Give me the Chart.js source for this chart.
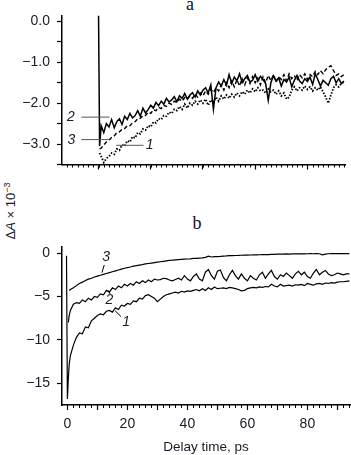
<!DOCTYPE html>
<html><head><meta charset="utf-8">
<script src="https://cdn.jsdelivr.net/npm/chart.js@4.4.1/dist/chart.umd.min.js"></script>
<style>
html,body{margin:0;padding:0;background:#fff;width:351px;height:455px;overflow:hidden;position:relative;}
#wa{position:absolute;left:0;top:0;width:351px;height:180px;}
#wb{position:absolute;left:0;top:230px;width:351px;height:225px;}
.pl{position:absolute;font-family:"Liberation Serif","Times New Roman",serif;font-size:18px;color:#111;transform:translateX(-50%);line-height:1;}
#ylab{position:absolute;left:10px;top:211px;transform:translate(-50%,-50%) rotate(-90deg);font-family:"Liberation Sans",Arial,sans-serif;font-size:13px;white-space:nowrap;color:#1a1a2a;}
#ylab sup{font-size:9px;}
</style></head>
<body>
<div class="pl" style="left:190px;top:-5px">a</div>
<div class="pl" style="left:197px;top:214px">b</div>
<div id="ylab">Δ<i>A</i> × 10<sup>−3</sup></div>
<div id="wa"><canvas id="ca" width="351" height="180"></canvas></div>
<div id="wb"><canvas id="cb" width="351" height="225"></canvas></div>
<script>
// ---------- Panel a data ----------
const timesA = [0,0.02,
0.05,0.10,0.15,0.20,0.25,0.30,0.35,0.40,0.45,0.50,
0.55,0.60,0.65,0.70,0.75,0.80,0.85,0.90,0.95,1.00,
1.05,1.10,1.15,1.20,1.25,1.30,1.35,1.40,1.45,1.50,
1.55,1.60,1.65,1.70,1.75,1.80,1.85,1.90,1.95,2.00,
2.05,2.10,2.15,2.20,2.25,2.30,2.35,2.40,2.45,2.50,
2.55,2.60,2.65,2.70,2.75,2.80,2.85,2.90,2.95,3.00,
3.05,3.10,3.15,3.20,3.25,3.30,3.35,3.40,3.45,3.50,
3.55,3.60,3.65,3.70,3.75,3.80,3.85,3.90,3.95,4.00,
4.05,4.10,4.15,4.20,4.25,4.30,4.35,4.40,4.45,4.50,
4.55,4.60,4.65,4.70];
const curveA2 = [0.15,-3.05,
-2.55,-2.72,-2.50,-2.58,-2.40,-2.60,-2.45,-2.38,-2.52,-2.32,
-2.40,-2.25,-2.36,-2.30,-2.18,-2.32,-2.12,-2.24,-2.15,-2.05,
-2.12,-1.98,-2.06,-1.95,-2.02,-1.88,-1.97,-1.92,-1.84,-1.96,
-1.82,-1.88,-1.76,-1.90,-1.80,-1.74,-1.85,-1.70,-1.80,-1.68,
-1.62,-1.75,-1.55,-2.15,-1.62,-1.48,-1.58,-1.42,-1.56,-1.30,
-1.52,-1.36,-1.45,-1.28,-1.50,-1.40,-1.32,-1.48,-1.44,-1.30,
-1.46,-1.34,-1.42,-1.52,-1.93,-1.50,-1.33,-1.46,-1.38,-1.58,
-1.42,-1.48,-1.36,-1.60,-1.44,-1.32,-1.46,-1.52,-1.40,-1.47,
-1.36,-1.54,-1.28,-1.42,-1.58,-1.44,-1.50,-1.56,-1.40,-1.34,
-1.50,-1.40,-1.52,-1.46];
const curveA3 = [null,-3.12,
-3.10,-3.02,-2.95,-2.90,-2.84,-2.80,-2.72,-2.70,-2.64,-2.62,
-2.55,-2.55,-2.48,-2.45,-2.38,-2.37,-2.30,-2.30,-2.22,-2.25,
-2.16,-2.18,-2.10,-2.13,-2.05,-2.08,-2.00,-2.03,-1.95,-1.98,
-1.90,-1.95,-1.86,-1.90,-1.82,-1.88,-1.78,-1.85,-1.75,-1.82,
-1.70,-1.78,-1.66,-1.74,-1.62,-1.70,-1.55,-1.68,-1.50,-1.62,
-1.45,-1.60,-1.42,-1.58,-1.40,-1.55,-1.38,-1.52,-1.35,-1.50,
-1.38,-1.55,-1.35,-1.50,-1.32,-1.45,-1.30,-1.48,-1.35,-1.42,
-1.30,-1.45,-1.28,-1.40,-1.32,-1.45,-1.30,-1.38,-1.28,-1.42,
-1.30,-1.35,-1.22,-1.30,-1.20,-1.28,-1.18,-1.12,-1.08,-1.20,
-1.32,-1.28,-1.35,-1.30];
const curveA1 = [null,-3.22,
-3.30,-3.45,-3.35,-3.30,-3.22,-3.25,-3.12,-3.15,-3.02,-3.05,
-2.92,-2.95,-2.82,-2.85,-2.72,-2.75,-2.63,-2.66,-2.55,-2.58,
-2.46,-2.48,-2.38,-2.40,-2.30,-2.32,-2.22,-2.25,-2.15,-2.18,
-2.08,-2.15,-2.02,-2.12,-2.00,-2.05,-1.95,-2.02,-1.92,-2.00,
-1.90,-2.05,-1.92,-1.98,-1.85,-1.95,-1.82,-1.90,-1.80,-1.88,
-1.78,-1.85,-1.75,-1.82,-1.72,-1.78,-1.68,-1.75,-1.65,-1.72,
-1.62,-1.70,-1.68,-1.75,-1.65,-1.72,-1.68,-1.78,-1.70,-1.82,
-1.75,-1.90,-1.85,-1.68,-1.60,-1.70,-1.62,-1.68,-1.58,-1.66,
-1.60,-1.70,-1.62,-1.68,-1.60,-1.72,-1.85,-2.00,-1.80,-1.62,
-1.55,-1.60,-1.52,-1.48];
const yTicksA = [0,-1,-2,-3];
const yLabelsA = ['0.0','−1.0','−2.0','−3.0'];

// ---------- Panel b data ----------
const timesB = [-0.3,0,0.3,0.6,
1,2,3,4,5,6,7,8,9,10,11,12,13,14,15,16,17,18,19,20,
21,22,23,24,25,26,27,28,29,30,31,32,33,34,35,36,37,38,39,40,
41,42,43,44,45,46,47,48,49,50,51,52,53,54,55,56,57,58,59,60,
61,62,63,64,65,66,67,68,69,70,71,72,73,74,75,76,77,78,79,80,
81,82,83,84,85,86,87,88,89,90,91,92,93,94];
const curveB1 = [-0.3,-16.8,-14.5,-12.8,
-11.8,-10.6,-9.7,-9.2,-9.3,-8.5,-8.6,-7.8,-7.5,-7.2,
-7.0,-7.1,-6.7,-6.6,-6.8,-6.3,-6.5,-6.0,-6.1,-5.8,
-5.9,-5.5,-5.6,-5.2,-5.3,-4.9,-4.8,-5.0,-5.2,-5.6,
-5.3,-5.0,-4.8,-4.7,-4.6,-4.5,-4.6,-4.4,-4.5,-4.35,
-4.4,-4.3,-4.2,-4.35,-4.1,-4.3,-4.0,-4.2,-3.9,-4.1,
-4.05,-4.0,-4.1,-3.95,-4.0,-4.1,-4.2,-4.35,-4.3,-4.1,
-4.0,-3.95,-4.0,-3.9,-3.95,-3.85,-3.9,-3.6,-3.8,-3.9,
-3.6,-3.8,-3.75,-3.7,-3.8,-3.65,-3.7,-3.6,-3.75,-3.5,
-3.6,-3.7,-3.55,-3.5,-3.6,-3.45,-3.5,-3.4,-3.45,-3.35,
-3.3,-3.3,-3.25,-3.2];
const curveB2 = [null,null,-8.0,-7.2,
-6.6,-5.9,-5.7,-5.8,-5.4,-5.6,-5.2,-5.4,-5.0,-5.1,
-4.7,-4.8,-4.3,-4.5,-4.0,-4.2,-3.8,-4.0,-3.6,-3.8,
-3.5,-3.7,-3.3,-3.5,-3.2,-3.4,-3.1,-3.3,-3.0,-3.1,
-3.05,-2.9,-2.95,-3.1,-3.2,-3.05,-2.9,-3.1,-2.6,-3.0,
-3.2,-2.7,-2.4,-3.0,-3.2,-2.2,-1.9,-2.6,-3.0,-2.1,
-1.95,-2.8,-3.2,-2.5,-2.0,-2.6,-3.0,-2.4,-2.9,-3.2,
-2.6,-2.9,-3.1,-2.5,-2.2,-2.9,-2.4,-2.0,-2.7,-3.0,
-2.5,-2.7,-2.3,-2.6,-2.9,-2.4,-2.1,-2.5,-2.2,-2.7,
-2.9,-2.3,-1.9,-2.5,-2.2,-2.0,-2.4,-2.6,-2.5,-2.3,
-2.4,-2.5,-2.4,-2.4];
const curveB3 = [null,null,null,-4.3,
-4.2,-4.0,-3.75,-3.5,-3.35,-3.15,-3.0,-2.9,-2.75,-2.65,
-2.55,-2.45,-2.35,-2.25,-2.15,-2.05,-1.95,-1.85,-1.75,-1.68,
-1.6,-1.5,-1.45,-1.38,-1.32,-1.25,-1.2,-1.15,-1.1,-1.05,
-1.0,-0.95,-0.9,-0.85,-0.82,-0.78,-0.75,-0.72,-0.7,-0.68,
-0.66,-0.62,-0.6,-0.58,-0.56,-0.5,-0.35,-0.45,-0.42,-0.4,
-0.38,-0.35,-0.33,-0.3,-0.3,-0.28,-0.27,-0.25,-0.24,-0.23,
-0.22,-0.2,-0.2,-0.19,-0.18,-0.17,-0.17,-0.15,-0.14,-0.13,
-0.12,-0.12,-0.1,-0.11,-0.1,-0.09,-0.1,-0.08,-0.09,-0.08,
-0.07,-0.08,-0.06,-0.08,-0.2,-0.12,-0.08,-0.07,-0.06,-0.05,
-0.06,-0.07,-0.05,-0.06];
const xTicksB = [0,20,40,60,80];
const xLabelsB = ['0','20','40','60','80'];
const yTicksB = [0,-5,-10,-15];
const yLabelsB = ['0','−5','−10','−15'];

// ---------- helpers ----------
const pairs = (xs, ys) => xs.map((x, i) => ({x: x, y: ys[i]}));
const labelFrom = (vals, labs) => (v) => {
  for (let i = 0; i < vals.length; i++) if (Math.abs(v - vals[i]) < 1e-6) return labs[i];
  return '';
};
const SANS = '"Liberation Sans", Arial, Helvetica, sans-serif';
const INK = '#1a1a2a';

const minorTicks = {
  id: 'minorTicks',
  afterDraw(chart, args, o) {
    const xs = chart.scales.x, ctx = chart.ctx, y0 = chart.chartArea.bottom;
    ctx.save();
    ctx.strokeStyle = '#000'; ctx.lineWidth = 1;
    ctx.beginPath();
    const n = Math.round((o.to - o.from) / o.step);
    for (let i = 0; i <= n; i++) {
      const v = o.from + i * o.step;
      const px = Math.round(xs.getPixelForValue(v)) + 0.5;
      ctx.moveTo(px, y0); ctx.lineTo(px, y0 + o.len);
    }
    ctx.stroke();
    ctx.restore();
  }
};
const notes = {
  id: 'notes',
  afterDatasetsDraw(chart, args, o) {
    const ctx = chart.ctx, x = chart.scales.x, y = chart.scales.y;
    ctx.save();
    for (const n of o.items) {
      if (n.line) {
        ctx.strokeStyle = o.lineColor; ctx.lineWidth = 1;
        ctx.beginPath();
        ctx.moveTo(x.getPixelForValue(n.line[0]), y.getPixelForValue(n.line[1]));
        ctx.lineTo(x.getPixelForValue(n.line[2]), y.getPixelForValue(n.line[3]));
        ctx.stroke();
      }
      if (n.text) {
        ctx.fillStyle = INK;
        ctx.font = 'italic 14px ' + SANS;
        ctx.textAlign = 'center'; ctx.textBaseline = 'middle';
        ctx.fillText(n.text, x.getPixelForValue(n.at[0]), y.getPixelForValue(n.at[1]));
      }
    }
    ctx.restore();
  }
};

const common = {
  responsive: false, animation: false, events: [],
  plugins: {legend: {display: false}, tooltip: {enabled: false}, title: {display: false}},
  elements: {point: {radius: 0}, line: {tension: 0, borderColor: '#000', fill: false}}
};

// ---------- chart a ----------
new Chart(document.getElementById('ca'), {
  type: 'line',
  data: {datasets: [
    {data: pairs(timesA, curveA1), borderColor: '#000', borderWidth: 1.8, borderDash: [1.5, 1.6]},
    {data: pairs(timesA, curveA3), borderColor: '#000', borderWidth: 1.4, borderDash: [4, 2.5]},
    {data: pairs(timesA, curveA2), borderColor: '#000', borderWidth: 1.5}
  ]},
  options: Object.assign({}, common, {
    layout: {padding: {top: 14, right: 6, left: 0, bottom: 0}},
    plugins: Object.assign({}, common.plugins, {
      minorTicks: {from: -0.6, to: 4.7, step: 0.1, len: 3},
      notes: {lineColor: '#555', items: [
        {text: '2', at: [-0.53, -2.34], line: [-0.33, -2.34, 0.21, -2.34]},
        {text: '3', at: [-0.52, -2.90], line: [-0.33, -2.89, 0.24, -2.89]},
        {text: '1', at: [0.98, -3.03], line: [0.34, -3.03, 0.86, -3.03]}
      ]}
    }),
    scales: {
      x: {type: 'linear', min: -0.7, max: 4.72,
        afterFit(s) { s.height = 15.5; },
        grid: {drawOnChartArea: false, tickLength: 5, tickWidth: 1.2, tickColor: '#000'},
        border: {display: true, color: '#000', width: 1.5},
        ticks: {stepSize: 1, includeBounds: false, autoSkip: false, callback: () => '', padding: 0}},
      y: {type: 'linear', min: -3.5, max: 0.15,
        afterFit(s) { s.width = 62; },
        grid: {drawOnChartArea: false, tickLength: 5, tickWidth: 1.2, tickColor: '#000'},
        border: {display: true, color: '#000', width: 1.5},
        ticks: {stepSize: 0.5, includeBounds: false, autoSkip: false, padding: 7,
          color: INK, font: {family: SANS, size: 14},
          callback: labelFrom(yTicksA, yLabelsA)}}
    }
  }),
  plugins: [minorTicks, notes]
});

// ---------- chart b ----------
new Chart(document.getElementById('cb'), {
  type: 'line',
  data: {datasets: [
    {data: pairs(timesB, curveB1), borderColor: '#000', borderWidth: 1.2},
    {data: pairs(timesB, curveB2), borderColor: '#000', borderWidth: 1.2},
    {data: pairs(timesB, curveB3), borderColor: '#000', borderWidth: 1.2}
  ]},
  options: Object.assign({}, common, {
    layout: {padding: {top: 17, right: 1, left: 0, bottom: 0}},
    plugins: Object.assign({}, common.plugins, {
      minorTicks: {from: 0, to: 94, step: 2, len: 3},
      notes: {lineColor: '#000', items: [
        {text: '3', at: [12.9, -0.45], line: [12.3, -1.37, 11.5, -2.26]},
        {text: '2', at: [14.0, -5.4], line: [14.2, -4.75, 13.8, -4.3]},
        {text: '1', at: [19.6, -8.0], line: [17.9, -7.33, 15.9, -6.64]}
      ]}
    }),
    scales: {
      x: {type: 'linear', min: -1.8, max: 94.2,
        afterFit(s) { s.height = 50; },
        grid: {drawOnChartArea: false, tickLength: 5, tickWidth: 1.2, tickColor: '#000'},
        border: {display: true, color: '#000', width: 1.5},
        title: {display: true, text: 'Delay time, ps', color: INK, font: {family: SANS, size: 13.5}, padding: {top: 0, bottom: 0}},
        ticks: {stepSize: 10, includeBounds: false, autoSkip: false, maxRotation: 0, padding: 6,
          color: INK, font: {family: SANS, size: 14},
          callback: labelFrom(xTicksB, xLabelsB)}},
      y: {type: 'linear', min: -17.5, max: 0.7,
        afterFit(s) { s.width = 62; },
        grid: {drawOnChartArea: false, tickLength: 5, tickWidth: 1.2, tickColor: '#000'},
        border: {display: true, color: '#000', width: 1.5},
        ticks: {stepSize: 5, includeBounds: false, autoSkip: false, padding: 7,
          color: INK, font: {family: SANS, size: 14},
          callback: labelFrom(yTicksB, yLabelsB)}}
    }
  }),
  plugins: [minorTicks, notes]
});
</script>
</body></html>
